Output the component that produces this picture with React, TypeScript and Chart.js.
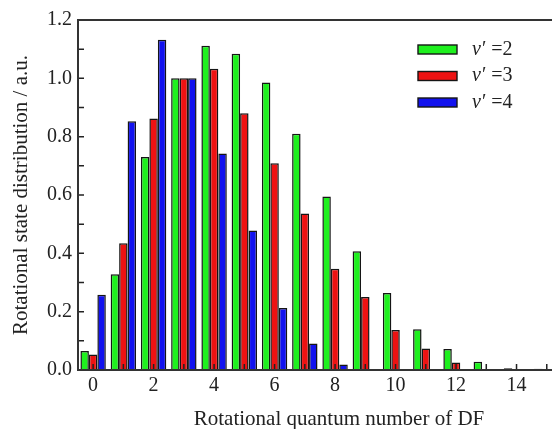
import { useEffect, useRef } from "react";
import { Chart, registerables } from "chart.js";

Chart.register(...registerables);

// ---- data ----
const rotationalJ = [0, 1, 2, 3, 4, 5, 6, 7, 8, 9, 10, 11, 12, 13, 14, 15];
const seriesLabels = ["v′ =2", "v′ =3", "v′ =4"];
const v2Values = [0.065, 0.328, 0.73, 1.0, 1.112, 1.084, 0.986, 0.81, 0.595, 0.407, 0.264, 0.14, 0.072, 0.028, 0.006, 0.004];
const v3Values = [0.053, 0.435, 0.862, 1.0, 1.033, 0.88, 0.709, 0.537, 0.347, 0.25, 0.137, 0.074, 0.026, 0.003, 0, 0];
const v4Values = [0.258, 0.853, 1.132, 1.0, 0.742, 0.478, 0.213, 0.091, 0.019, 0, 0, 0, 0, 0, 0, 0];
const seriesColors = ["#1ef01e", "#ee1212", "#1212ee"];
const xTickLabels = [0, 2, 4, 6, 8, 10, 12, 14];
const yTickValues = [0, 0.2, 0.4, 0.6, 0.8, 1.0, 1.2];
const xTitle = "Rotational quantum number of DF";
const yTitle = "Rotational state distribution / a.u.";

const FONT = "'Liberation Serif', 'Times New Roman', serif";
const INK = "#222222";

const decorPlugin = {
  id: "decor",
  afterDatasetsDraw(chart: any) {
    const { ctx, chartArea } = chart;
    const xs = chart.scales.x;
    const ys = chart.scales.y;
    ctx.save();
    // inward ticks
    ctx.strokeStyle = INK;
    ctx.lineWidth = 1.5;
    ctx.beginPath();
    for (const j of rotationalJ) {
      const px = xs.getPixelForValue(j);
      ctx.moveTo(px, chartArea.bottom);
      ctx.lineTo(px, chartArea.bottom - 6);
    }
    for (let i = 1; i < 12; i++) {
      const py = ys.getPixelForValue(i / 10);
      ctx.moveTo(chartArea.left, py);
      ctx.lineTo(chartArea.left + 6, py);
    }
    ctx.stroke();
    // frame
    ctx.lineWidth = 2;
    ctx.strokeStyle = "#333333";
    ctx.strokeRect(chartArea.left, chartArea.top, chartArea.right - chartArea.left, chartArea.bottom - chartArea.top);

    // legend
    const ds = chart.data.datasets;
    const boxX = chartArea.left + 340;
    const boxW = 39;
    const boxH = 9;
    for (let i = 0; i < ds.length; i++) {
      const cy = chartArea.top + 29.5 + i * 26.5;
      ctx.fillStyle = ds[i].backgroundColor;
      ctx.fillRect(boxX, cy - boxH / 2, boxW, boxH);
      ctx.lineWidth = 1.4;
      ctx.strokeStyle = "#151515";
      ctx.strokeRect(boxX, cy - boxH / 2, boxW, boxH);
      const label: string = ds[i].label;
      const tx = boxX + 54;
      const ty = cy + 5;
      ctx.fillStyle = INK;
      ctx.textBaseline = "alphabetic";
      ctx.textAlign = "left";
      ctx.font = `italic 20px ${FONT}`;
      const first = label.charAt(0);
      ctx.fillText(first, tx, ty);
      const w = ctx.measureText(first).width;
      ctx.font = `20px ${FONT}`;
      ctx.fillText(label.slice(1), tx + w + 1, ty);
    }
    ctx.restore();
  },
};

export default function App() {
  const canvasRef = useRef<HTMLCanvasElement | null>(null);

  useEffect(() => {
    const canvas = canvasRef.current;
    if (!canvas) return;
    const seriesValues = [v2Values, v3Values, v4Values];
    const chart = new Chart(canvas, {
      type: "bar",
      data: {
        datasets: seriesValues.map((vals, i) => ({
          label: seriesLabels[i],
          data: rotationalJ.map((j, k) => ({ x: j, y: vals[k] })),
          backgroundColor: seriesColors[i],
          borderColor: "#151515",
          borderWidth: 1.5,
          categoryPercentage: 0.84,
          barPercentage: 1.0,
        })),
      },
      options: {
        responsive: false,
        animation: false,
        devicePixelRatio: 1,
        layout: { padding: { left: 0, top: 20, right: 20, bottom: 0 } },
        plugins: {
          legend: { display: false },
          tooltip: { enabled: false },
        },
        scales: {
          x: {
            type: "linear",
            min: -0.5,
            max: 16.76,
            offset: false,
            grid: { display: false, drawTicks: false },
            border: { display: false },
            afterFit: (s: any) => {
              s.height = 70;
            },
            afterBuildTicks: (s: any) => {
              s.ticks = xTickLabels.map((v) => ({ value: v }));
            },
            ticks: {
              autoSkip: false,
              maxRotation: 0,
              minRotation: 0,
              padding: 4,
              color: INK,
              font: { family: FONT, size: 20 },
              callback: (v: any) => String(v),
            },
            title: {
              display: true,
              text: xTitle,
              color: INK,
              font: { family: FONT, size: 21 },
              padding: { top: 0, bottom: 7.5 },
            },
          },
          y: {
            min: 0,
            max: 1.2,
            grid: { display: false, drawTicks: false },
            border: { display: false },
            afterFit: (s: any) => {
              s.width = 78;
            },
            afterBuildTicks: (s: any) => {
              s.ticks = yTickValues.map((v) => ({ value: v }));
            },
            ticks: {
              padding: 6,
              color: INK,
              font: { family: FONT, size: 20 },
              callback: (v: any) => Number(v).toFixed(1),
            },
            title: {
              display: true,
              text: yTitle,
              color: INK,
              font: { family: FONT, size: 21 },
              padding: { top: 9, bottom: 0 },
            },
          },
        },
      },
      plugins: [decorPlugin],
    });
    return () => chart.destroy();
  }, []);

  return (
    <div
      style={{
        position: "fixed",
        left: 0,
        top: 0,
        width: 552,
        height: 429,
        overflow: "hidden",
        background: "#ffffff",
      }}
    >
      <canvas ref={canvasRef} width={620} height={440} style={{ width: 620, height: 440, display: "block" }} />
    </div>
  );
}
